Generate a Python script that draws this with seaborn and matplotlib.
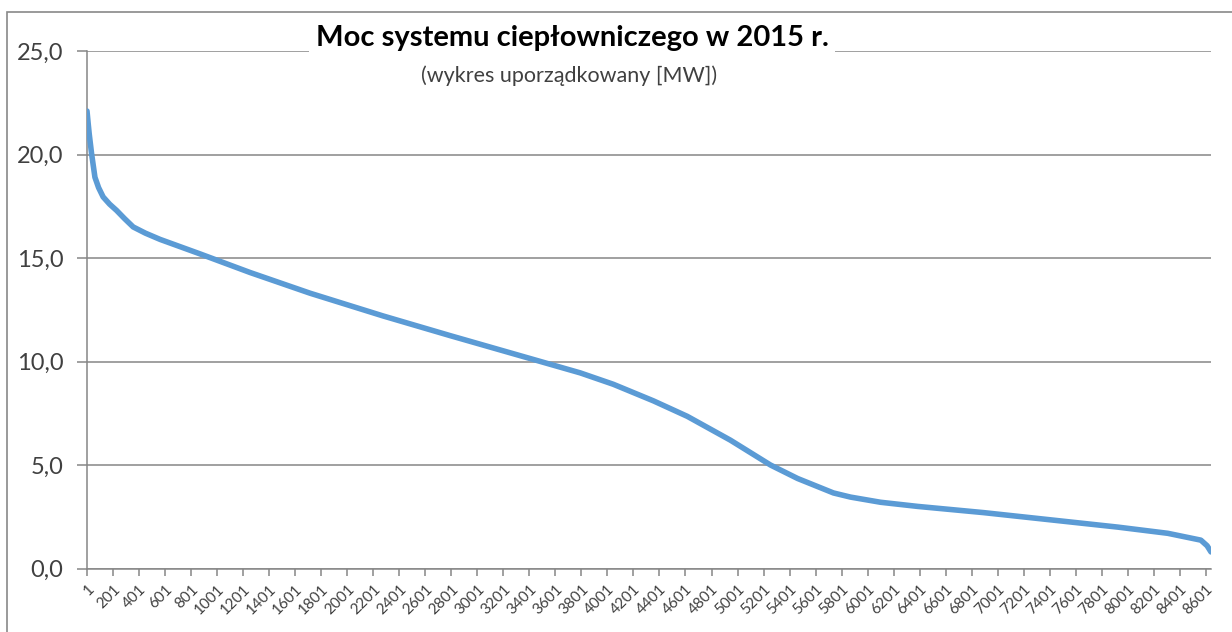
import matplotlib
matplotlib.use('Agg')
import matplotlib.pyplot as plt
import pandas as pd
import seaborn as sns
from matplotlib.patches import Rectangle

# Duration curve (hour rank, MW)
hours = [1, 10, 18, 36, 62, 90, 125, 175, 228, 290, 356, 450, 562, 869, 1254,
         1715, 2277, 2792, 3431, 3792, 4046, 4354, 4615, 4946, 5254, 5462,
         5738, 5869, 6100, 6385, 6892, 7408, 7923, 8308, 8562, 8610, 8640]
power = [22.1, 21.5, 21.0, 20.05, 18.9, 18.4, 17.95, 17.6, 17.3, 16.9, 16.5,
         16.2, 15.9, 15.2, 14.3, 13.3, 12.2, 11.25, 10.1, 9.45, 8.9, 8.1, 7.35,
         6.2, 5.0, 4.35, 3.65, 3.45, 3.2, 3.0, 2.7, 2.35, 2.0, 1.7, 1.37, 1.1, 0.8]
x_ticks = list(range(1, 8602, 200))
y_ticks = [0, 5, 10, 15, 20, 25]

df = pd.DataFrame({'godzina': hours, 'moc': power})

sns.set_style('white')
plt.rcParams['font.family'] = ['Lato', 'DejaVu Sans']

fig = plt.figure(figsize=(12.32, 6.32), dpi=100)
ax = fig.add_axes([87 / 1232, 1 - 568.5 / 632, (1211 - 87) / 1232, (568.5 - 51) / 632])

sns.lineplot(data=df, x='godzina', y='moc', ax=ax, color='#5B9BD5', lw=4, zorder=3)

ax.set_xlim(1, 8640)
ax.set_ylim(0, 25)
ax.set_yticks(y_ticks)
ax.set_yticklabels([f'{v:.1f}'.replace('.', ',') for v in y_ticks], fontsize=17, color='#404040')
ax.set_xticks(x_ticks)
ax.set_xticklabels([str(t) for t in x_ticks], rotation=45, ha='right',
                   rotation_mode='anchor', fontsize=11, color='#404040')
ax.set_xlabel('')
ax.set_ylabel('')

ax.grid(axis='y', color='#868686', lw=1.1)
ax.set_axisbelow(True)
for s in ['top', 'right']:
    ax.spines[s].set_visible(False)
for s in ['left', 'bottom']:
    ax.spines[s].set_color('#868686')
    ax.spines[s].set_linewidth(1.1)
ax.tick_params(axis='y', direction='out', length=7, color='#868686', width=1.1, pad=10, left=True)
ax.tick_params(axis='x', direction='out', length=5, color='#868686', width=1.1, pad=5, bottom=True)

# title over the top gridline, like the Excel original
fig.text(572 / 1232, 1 - 38 / 632, 'Moc systemu ciepłowniczego w 2015 r.',
         ha='center', va='center', fontsize=21, fontweight='bold', color='black',
         bbox=dict(fc='white', ec='none', pad=5), zorder=5)
fig.text(569 / 1232, 1 - 76 / 632, '(wykres uporządkowany [MW])',
         ha='center', va='center', fontsize=15.5, color='#404040')

# chart area frame (cropped at right and bottom)
fig.patches.append(Rectangle((7 / 1232, -0.1), 1.2, (632 - 12) / 632 + 0.1,
                             transform=fig.transFigure, fill=False, ec='#898989', lw=1.2))

fig.savefig('out.png', dpi=100)
